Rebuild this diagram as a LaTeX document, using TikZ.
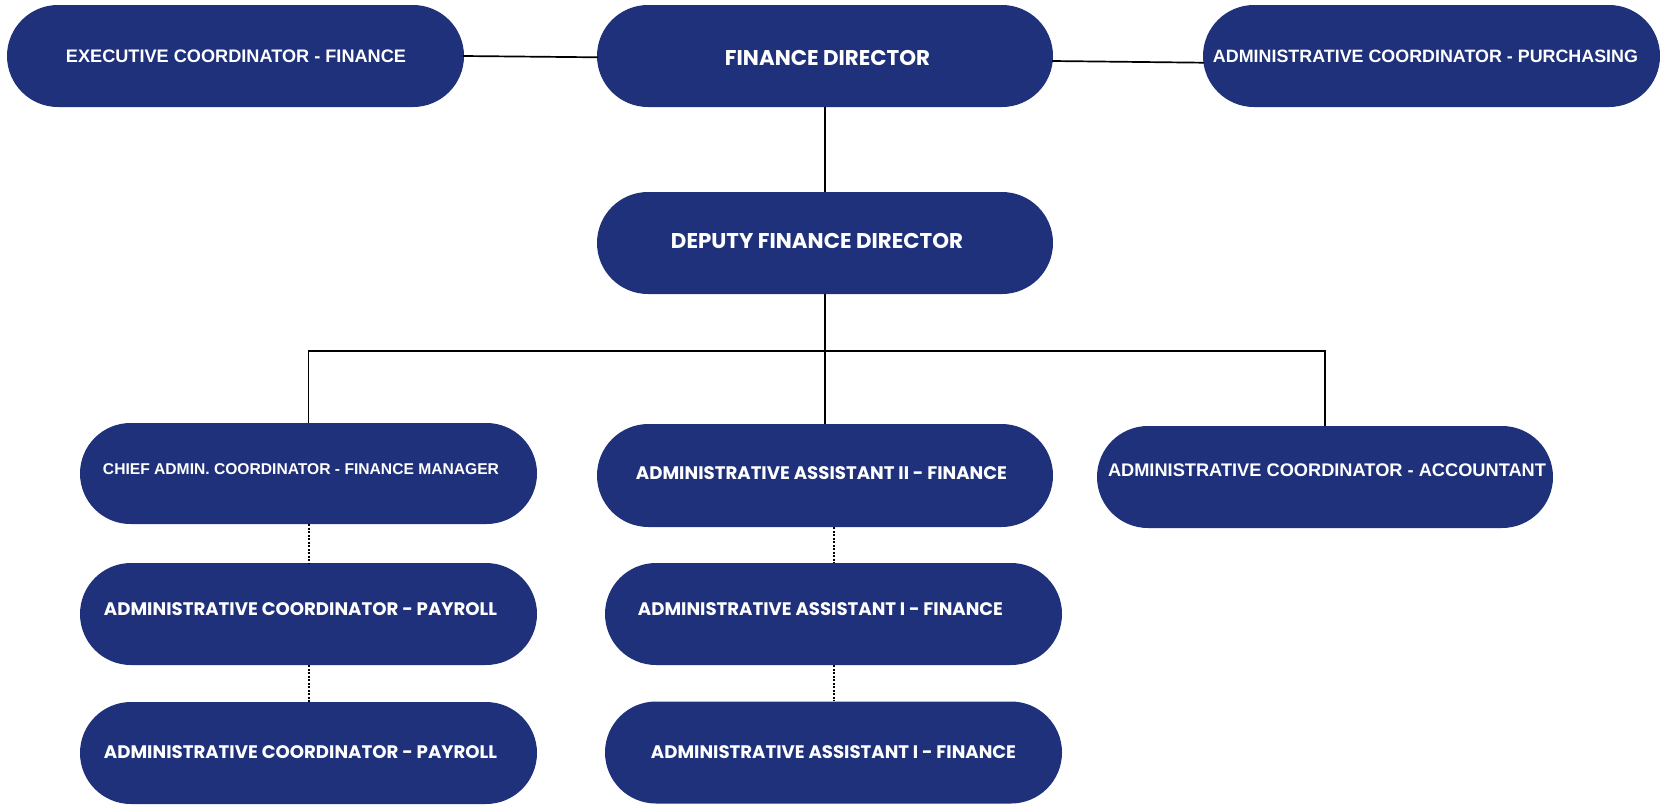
\documentclass[tikz,border=0pt]{standalone}
\usepackage{fontspec}
\usepackage{graphicx}
\usetikzlibrary{shapes.misc,calc}
\newfontfamily\libfont{Liberation Sans}
\newfontfamily\popfont{Poppins}
\definecolor{navy}{RGB}{31,49,123}
\newcommand\fitw[2]{\resizebox{#1pt}{!}{#2}}
\tikzset{
  pill/.style={rounded rectangle, fill=navy, draw=none, inner sep=0pt},
  txt/.style={inner sep=0pt, text=white, anchor=center},
  link/.style={line width=1.7pt, black},
  dotlink/.style={line width=2pt, black, dash pattern=on 2pt off 1.5pt}
}
\begin{document}
\begin{tikzpicture}[x=1pt,y=-1pt]
\fill[white] (0,0) rectangle (1660,804);
\useasboundingbox (0,0) rectangle (1660,804);

% boxes
\node[pill, minimum width=457pt, minimum height=102pt] (exec) at (235.5,56) {};
\node[pill, minimum width=456pt, minimum height=102pt] (fd) at (825,56) {};
\node[pill, minimum width=457pt, minimum height=102pt] (purch) at (1431.5,56) {};
\node[pill, minimum width=456pt, minimum height=102pt] (dfd) at (825,243) {};
\node[pill, minimum width=457pt, minimum height=101pt] (chief) at (308.5,473.5) {};
\node[pill, minimum width=456pt, minimum height=103pt] (aa2) at (825,475.5) {};
\node[pill, minimum width=456pt, minimum height=102pt] (acct) at (1325,477) {};
\node[pill, minimum width=457pt, minimum height=102pt] (aa1a) at (833.5,614) {};
\node[pill, minimum width=457pt, minimum height=102pt] (aa1b) at (833.5,752.5) {};
\node[pill, minimum width=457pt, minimum height=102pt] (pay1) at (308.5,614) {};
\node[pill, minimum width=457pt, minimum height=102pt] (pay2) at (308.5,753) {};

% texts
\node[txt] (exec-t) at (236,56.5) {\fitw{340}{\libfont\bfseries EXECUTIVE COORDINATOR - FINANCE}};
\node[txt] (fd-t) at (827.5,58) {\fitw{205}{\popfont\bfseries FINANCE DIRECTOR}};
\node[txt] (purch-t) at (1425.5,56.5) {\fitw{425}{\libfont\bfseries ADMINISTRATIVE COORDINATOR - PURCHASING}};
\node[txt] (dfd-t) at (817,240.5) {\fitw{292}{\popfont\bfseries DEPUTY FINANCE DIRECTOR}};
\node[txt] (chief-t) at (301,469) {\fitw{396}{\libfont\bfseries CHIEF ADMIN. COORDINATOR - FINANCE MANAGER}};
\node[txt] (aa2-t) at (821.5,473.5) {\fitw{371}{\popfont\bfseries ADMINISTRATIVE ASSISTANT II - FINANCE}};
\node[txt] (acct-t) at (1327,470.5) {\fitw{438}{\libfont\bfseries ADMINISTRATIVE COORDINATOR - ACCOUNTANT}};
\node[txt] (aa1a-t) at (820.5,609.5) {\fitw{365}{\popfont\bfseries ADMINISTRATIVE ASSISTANT I - FINANCE}};
\node[txt] (aa1b-t) at (833.5,752.5) {\fitw{365}{\popfont\bfseries ADMINISTRATIVE ASSISTANT I - FINANCE}};
\node[txt] (pay1-t) at (300.5,609.5) {\fitw{393}{\popfont\bfseries ADMINISTRATIVE COORDINATOR - PAYROLL}};
\node[txt] (pay2-t) at (300.5,752.5) {\fitw{393}{\popfont\bfseries ADMINISTRATIVE COORDINATOR - PAYROLL}};

% connectors
\draw[link] ($(exec.east)+(-1,0)$) -- ($(fd.west)+(1,1.3)$);
\draw[link] ($(fd.east)+(-1,5)$) -- ($(purch.west)+(1,6.7)$);
\draw[link] (fd.south) -- (dfd.north);
\draw[link] (dfd.south) -- (aa2.north);
\coordinate (bus) at (825,351);
\draw[link] (chief.north) |- (bus) -| (acct.north);
\draw[dotlink] (chief.south) -- (pay1.north);
\draw[dotlink] (pay1.south) -- (pay2.north);
\draw[dotlink] (aa1a.north |- aa2.south) -- (aa1a.north);
\draw[dotlink] (aa1a.south) -- (aa1b.north);
\end{tikzpicture}
\end{document}
